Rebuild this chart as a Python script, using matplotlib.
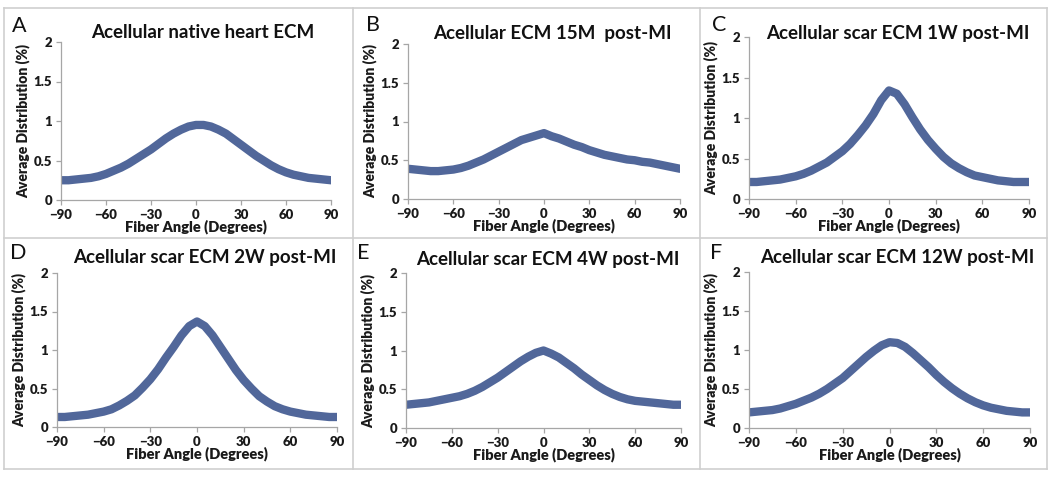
import matplotlib
matplotlib.use('Agg')
from matplotlib import pyplot as plt
from matplotlib.lines import Line2D

plt.rcParams['font.family'] = ['Lato', 'DejaVu Sans']

# fiber angle, 5 degree steps
angles = list(range(-90, 91, 5))

# average distribution (%) per panel
native_heart = [0.25, 0.25, 0.26, 0.27, 0.28, 0.30, 0.33, 0.37, 0.41, 0.46, 0.52, 0.58, 0.64, 0.71, 0.78,
                0.84, 0.89, 0.93, 0.95, 0.95, 0.93, 0.89, 0.84, 0.77, 0.70, 0.63, 0.56, 0.50, 0.44, 0.39,
                0.35, 0.32, 0.30, 0.28, 0.27, 0.26, 0.25]
ecm_15m = [0.39, 0.38, 0.37, 0.36, 0.36, 0.37, 0.38, 0.40, 0.43, 0.47, 0.51, 0.56, 0.61, 0.66, 0.71,
           0.76, 0.79, 0.82, 0.85, 0.81, 0.78, 0.74, 0.70, 0.67, 0.63, 0.60, 0.57, 0.55, 0.53, 0.51,
           0.50, 0.48, 0.47, 0.45, 0.43, 0.41, 0.39]
scar_1w = [0.21, 0.21, 0.22, 0.23, 0.24, 0.26, 0.28, 0.31, 0.35, 0.40, 0.45, 0.52, 0.59, 0.68, 0.79,
           0.91, 1.05, 1.22, 1.34, 1.30, 1.17, 1.01, 0.86, 0.73, 0.62, 0.52, 0.44, 0.38, 0.33, 0.29,
           0.27, 0.25, 0.23, 0.22, 0.21, 0.21, 0.21]
scar_2w = [0.13, 0.13, 0.14, 0.15, 0.16, 0.18, 0.20, 0.23, 0.28, 0.34, 0.41, 0.51, 0.62, 0.75, 0.90,
           1.04, 1.19, 1.31, 1.37, 1.31, 1.19, 1.04, 0.89, 0.74, 0.61, 0.50, 0.40, 0.33, 0.27, 0.23,
           0.20, 0.18, 0.16, 0.15, 0.14, 0.13, 0.13]
scar_4w = [0.30, 0.31, 0.32, 0.33, 0.35, 0.37, 0.39, 0.41, 0.44, 0.48, 0.53, 0.59, 0.65, 0.72, 0.79,
           0.86, 0.92, 0.97, 1.00, 0.96, 0.91, 0.84, 0.77, 0.69, 0.62, 0.55, 0.49, 0.44, 0.40, 0.37,
           0.35, 0.34, 0.33, 0.32, 0.31, 0.30, 0.30]
scar_12w = [0.20, 0.21, 0.22, 0.23, 0.25, 0.28, 0.31, 0.35, 0.39, 0.44, 0.50, 0.57, 0.64, 0.73, 0.82,
            0.91, 0.99, 1.06, 1.10, 1.09, 1.04, 0.96, 0.87, 0.78, 0.68, 0.59, 0.51, 0.44, 0.38, 0.33,
            0.29, 0.26, 0.24, 0.22, 0.21, 0.20, 0.20]

letters = ['A', 'B', 'C', 'D', 'E', 'F']
titles = ['Acellular native heart ECM', 'Acellular ECM 15M  post-MI', 'Acellular scar ECM 1W post-MI',
          'Acellular scar ECM 2W post-MI', 'Acellular scar ECM 4W post-MI', 'Acellular scar ECM 12W post-MI']
series = [native_heart, ecm_15m, scar_1w, scar_2w, scar_4w, scar_12w]

x_ticks = [-90, -60, -30, 0, 30, 60, 90]
y_ticks = [0, 0.5, 1, 1.5, 2]
y_tick_labels = ['0', '0.5', '1', '1.5', '2']

W, H = 1050, 478
fig = plt.figure(figsize=(W / 100, H / 100), dpi=100)

# axes boxes in pixels: left, top, right, bottom (top = value 2, bottom = value 0)
boxes = [(61, 42, 331, 200), (408, 44, 680, 199), (749, 37, 1029, 199),
         (57, 273, 337, 427), (406, 273, 681, 428), (749, 272, 1030, 428)]
# panel letter and title positions in pixels
letter_pos = [(12, 26), (366, 25), (712, 25), (10, 253), (357, 253), (710, 253)]
title_pos = [(203, 33), (552, 33), (898, 33), (205, 258), (548, 259), (897, 258)]

line_color = '#51679a'
spine_color = '#a6a6a6'
text_color = '#1a1a1a'

for i in range(6):
    l, t, r, b = boxes[i]
    ax = fig.add_axes([l / W, 1 - b / H, (r - l) / W, (b - t) / H])
    ax.plot(angles, series[i], color=line_color, lw=6, solid_capstyle='round', solid_joinstyle='round')
    ax.set_xlim(-90, 90)
    ax.set_ylim(0, 2)
    ax.set_xticks(x_ticks)
    ax.set_yticks(y_ticks)
    ax.set_yticklabels(y_tick_labels)
    for s in ['top', 'right']:
        ax.spines[s].set_visible(False)
    for s in ['left', 'bottom']:
        ax.spines[s].set_color(spine_color)
        ax.spines[s].set_linewidth(0.9)
    ax.tick_params(axis='both', colors=spine_color, length=3.5, width=0.9, labelcolor=text_color,
                   labelsize=9.5, pad=3)
    for lab in ax.get_xticklabels() + ax.get_yticklabels():
        lab.set_fontweight('heavy')
    ax.set_xlabel('Fiber Angle (Degrees)', fontsize=10.5, fontweight='heavy', labelpad=-1, color=text_color)
    ax.set_ylabel('Average Distribution (%)', fontsize=10, fontweight='heavy', labelpad=2, color=text_color)
    ax.patch.set_alpha(0)

    lx, ly = letter_pos[i]
    fig.text(lx / W, 1 - ly / H, letters[i], fontsize=15.5, ha='left', va='center', color='#111111')
    tx, ty = title_pos[i]
    fig.text(tx / W, 1 - ty / H, titles[i], fontsize=13.5, fontweight='bold', ha='center', va='center',
             color='#111111')

# light gray panel frame
grid_color = '#cfcfcf'
for y in [8, 238, 469]:
    fig.add_artist(Line2D([4 / W, 1047 / W], [1 - y / H, 1 - y / H], color=grid_color, lw=1.2))
for x in [4, 353, 700, 1047]:
    fig.add_artist(Line2D([x / W, x / W], [1 - 8 / H, 1 - 469 / H], color=grid_color, lw=1.2))

fig.savefig('out.png', dpi=100, facecolor='white')
